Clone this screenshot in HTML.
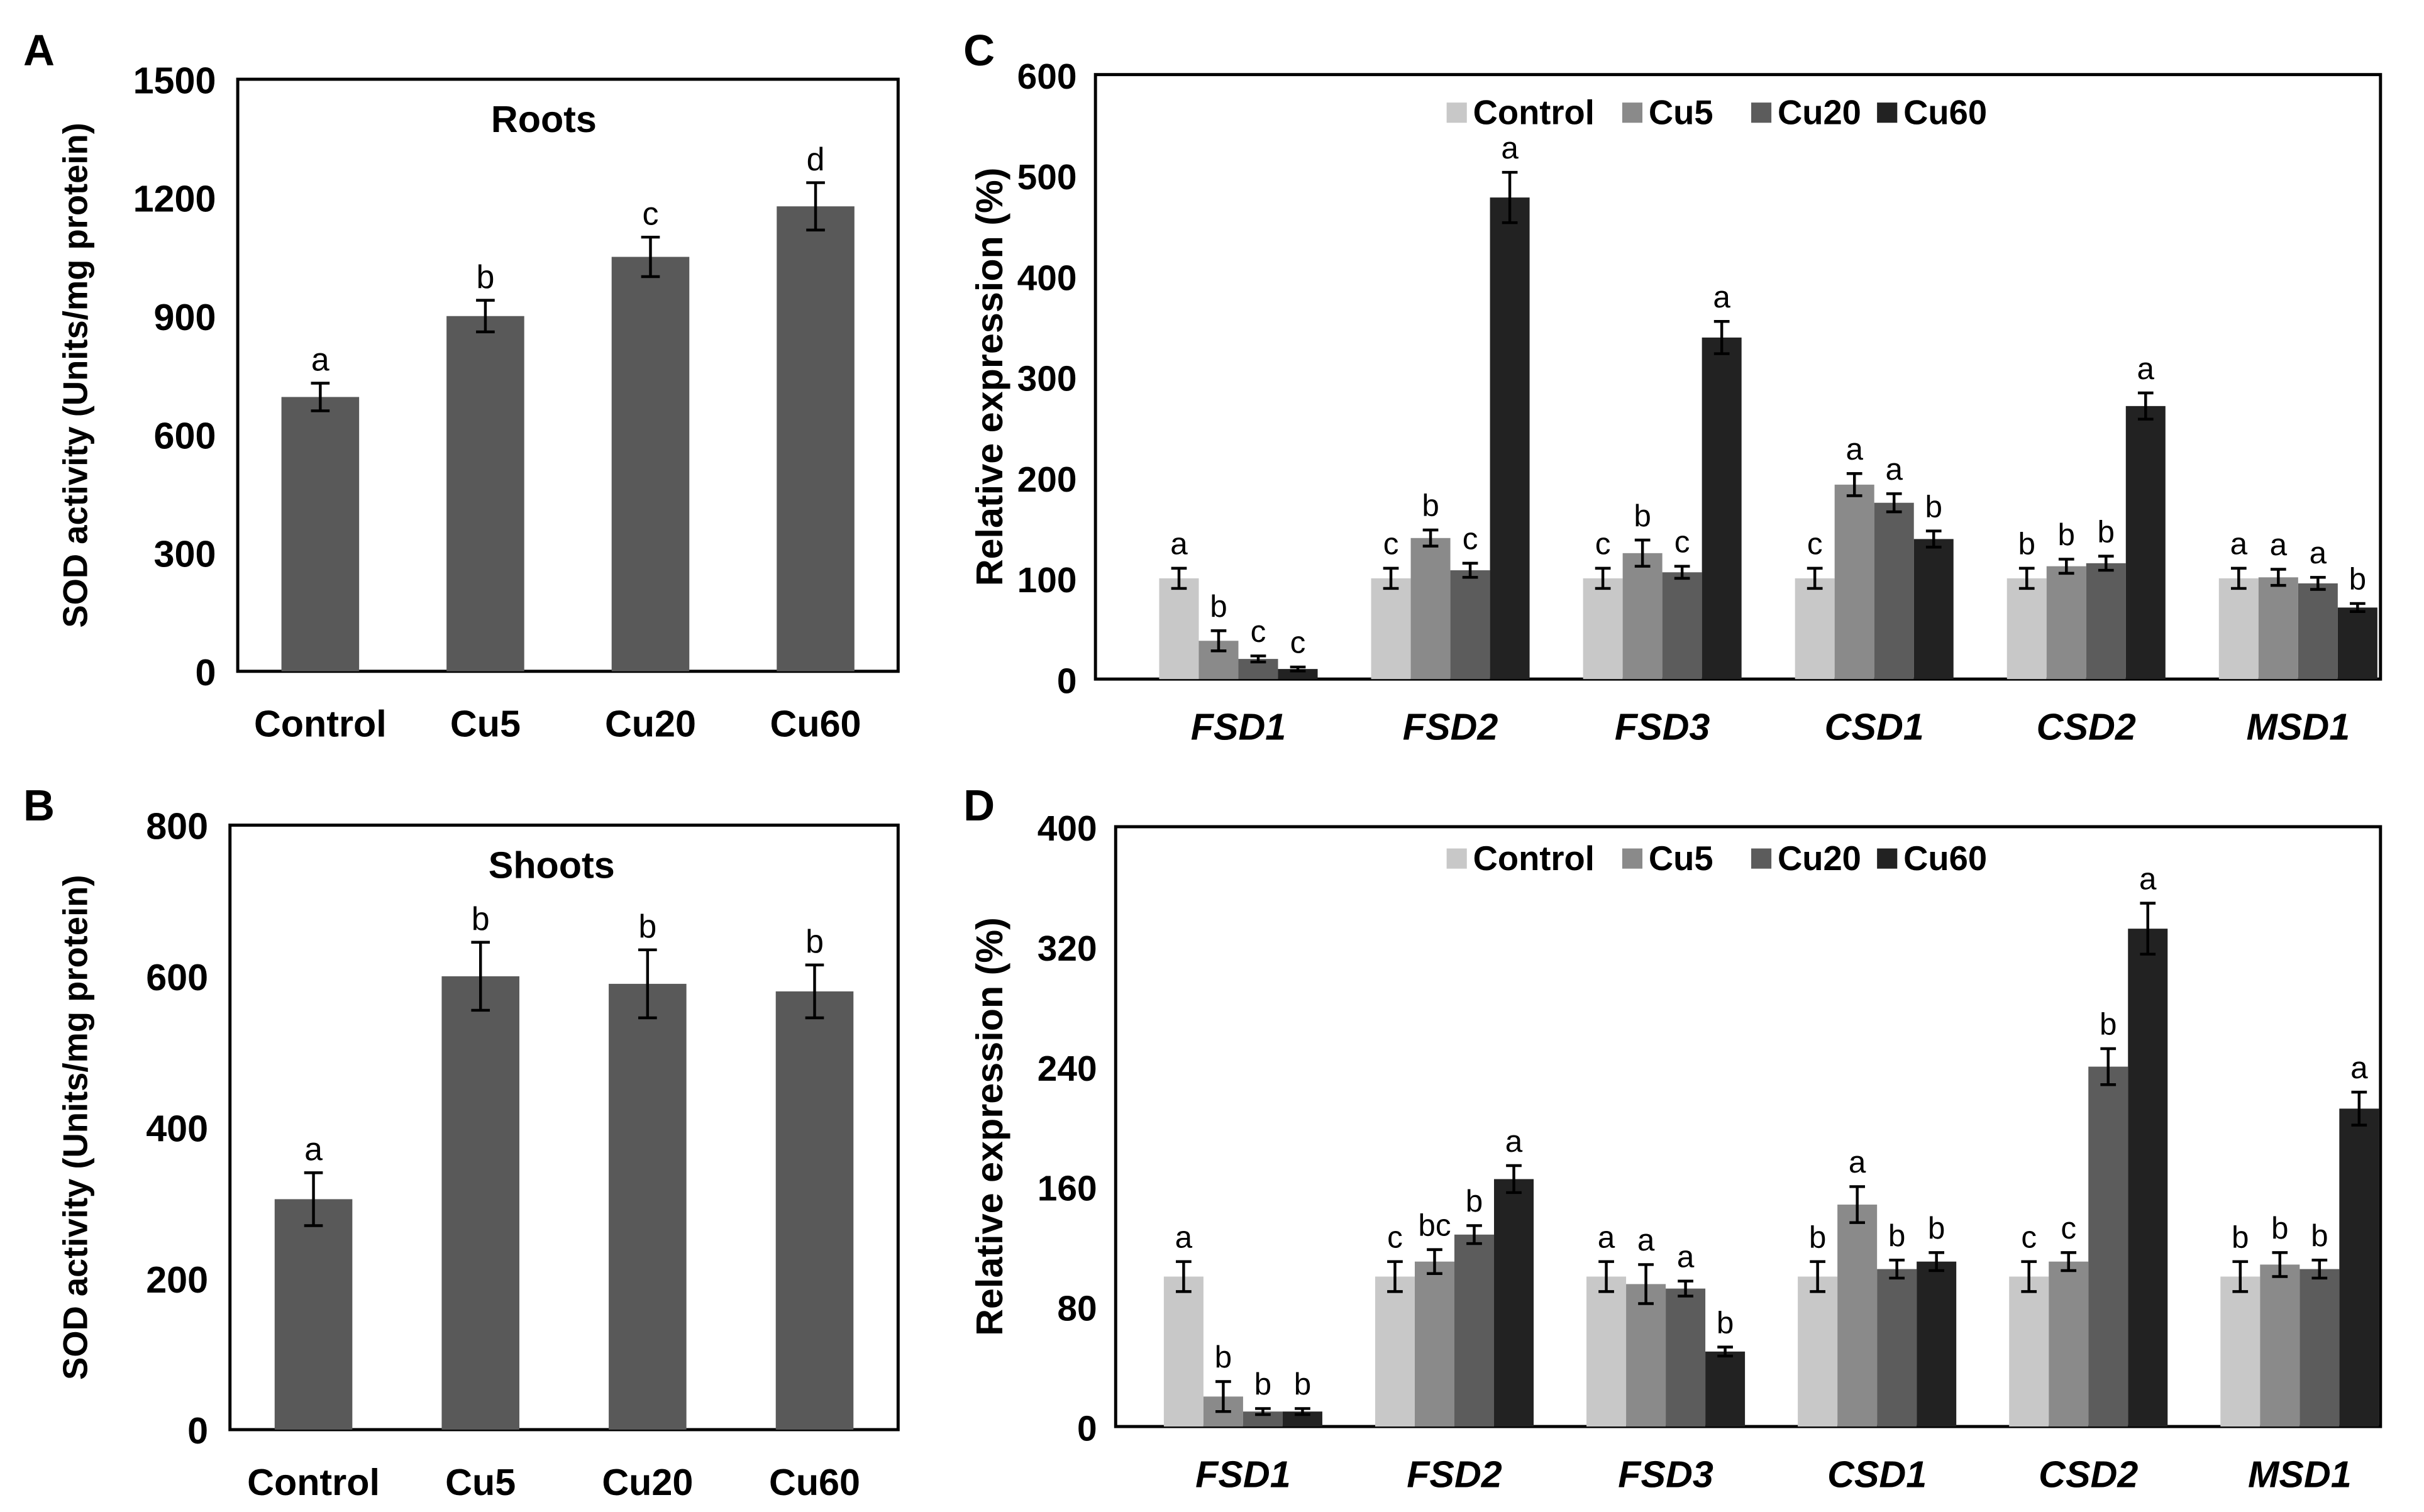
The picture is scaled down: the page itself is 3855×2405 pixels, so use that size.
<!DOCTYPE html>
<html><head><meta charset="utf-8"><style>
html,body{margin:0;padding:0;background:#fff;}
svg{display:block;}
text{font-family:"Liberation Sans",Arial,sans-serif;}
</style></head><body>
<svg id="fig" width="3855" height="2405" viewBox="0 0 1560 973" preserveAspectRatio="none" xmlns="http://www.w3.org/2000/svg">
<rect width="1560" height="973" fill="#fff"/>
</svg>
<script>
// ---- data ----
const treatA = ["Control","Cu5","Cu20","Cu60"];
const rootVals = [695,900,1050,1178];
const rootErr = [35,40,50,60];
const rootLetters = ["a","b","c","d"];
const shootVals = [305,600,590,580];
const shootErr = [35,45,45,35];
const shootLetters = ["a","b","b","b"];
const genes = ["FSD1","FSD2","FSD3","CSD1","CSD2","MSD1"];
const series = ["Control","Cu5","Cu20","Cu60"];
const cControl = [100,100,100,100,100,100];
const cCu5 = [38,140,125,193,112,101];
const cCu20 = [20,108,106,175,115,95];
const cCu60 = [10,478,339,139,271,71];
const cErr = [[10,10,10,10,10,10],[10,8,13,11,7,8],[3,7,6,9,7,6],[2,25,16,8,13,4]];
const cLetters = [["a","c","c","c","b","a"],["b","b","b","a","b","a"],["c","c","c","a","b","a"],["c","a","a","b","a","b"]];
const dControl = [100,100,100,100,100,100];
const dCu5 = [20,110,95,148,110,108];
const dCu20 = [10,128,92,105,240,105];
const dCu60 = [10,165,50,110,332,212];
const dErr = [[10,10,10,10,10,10],[10,8,13,12,6,8],[2,6,5,6,12,6],[2,9,3,6,17,11]];
const dLetters = [["a","c","a","b","c","b"],["b","bc","a","a","c","b"],["b","b","a","b","b","b"],["b","a","b","b","a","a"]];
const ticksA = [0,300,600,900,1200,1500];
const ticksB = [0,200,400,600,800];
const ticksC = [0,100,200,300,400,500,600];
const ticksD = [0,80,160,240,320,400];
const colors = ["#c8c8c8","#8a8a8a","#5c5c5c","#222222"];

const svg = document.getElementById('fig');
const NS = "http://www.w3.org/2000/svg";
function mk(tag, attrs, parent){
  const e = document.createElementNS(NS, tag);
  for (const k in attrs) e.setAttribute(k, attrs[k]);
  (parent||svg).appendChild(e); return e;
}
function txt(s, attrs, parent){ const t = mk('text', attrs, parent); t.textContent = s; return t; }

function errbar(g, x, y1, y2, w){
  mk('path',{d:`M${x},${y1}V${y2}M${x-w},${y1}H${x+w}M${x-w},${y2}H${x+w}`,stroke:'#000','stroke-width':1.8,fill:'none'},g);
}

function simplePanel(p){
  const g = mk('g',{});
  
  
  const y = v => p.bottom - (v - 0)/(p.max) * (p.bottom - p.top);
  const step = (p.right - p.left)/4;
  const box = mk('rect',{x:p.left,y:p.top,width:p.right-p.left,height:p.bottom-p.top,fill:'none',stroke:'#000','stroke-width':2},g);
   
  p.ticks.forEach(t=>{
    const tl = txt(String(t),{x:p.left-14,y:y(t)+9,'text-anchor':'end','font-size':24,'font-weight':'bold'},g);
     
  });
  p.vals.forEach((v,i)=>{
    const cx = p.left + step*(i+0.5);
    const b = mk('rect',{x:cx-25,y:y(v),width:50,height:p.bottom-y(v),fill:'#595959'},g);
     
    errbar(g,cx,y(v+p.err[i]),y(v-p.err[i]),6);
    const l = txt(p.letters[i],{x:cx,y:y(v+p.err[i])-8,'text-anchor':'middle','font-size':21},g);
     
    const c = txt(treatA[i],{x:cx,y:p.bottom+42,'text-anchor':'middle','font-size':24,'font-weight':'bold'},g);
     
  });
  const yl = txt('SOD activity (Units/mg protein)',{x:0,y:0,'text-anchor':'middle','font-size':22,'font-weight':'bold',transform:`translate(${p.ylx},${(p.top+p.bottom)/2}) rotate(-90)`},g);
   
  const t = txt(p.title,{x:p.tx,y:p.top+34,'text-anchor':'middle','font-size':24,'font-weight':'bold','font-family':'Liberation Serif, serif'},g);
   
  const L = txt(p.label,{x:15,y:p.ly,'font-size':28,'font-weight':'bold','font-family':'Liberation Serif, serif'},g);
   
}

function groupedPanel(p){
  const g = mk('g',{});
  
  
  const y = v => p.bottom - v/p.max*(p.bottom-p.top);
  const gx = i => p.c0 + i*p.step;
  const bw = 25.5;
  const box = mk('rect',{x:p.left,y:p.top,width:p.right-p.left,height:p.bottom-p.top,fill:'none',stroke:'#000','stroke-width':2},g);
   
  p.ticks.forEach(t=>{
    const tl = txt(String(t),{x:p.left-12,y:y(t)+9,'text-anchor':'end','font-size':23,'font-weight':'bold'},g);
     
  });
  p.data.forEach((arr,s)=>{
    arr.forEach((v,i)=>{
      const x = gx(i) + (s-2)*bw;
      const cx = x + bw/2;
      const b = mk('rect',{x:x,y:y(v),width:bw,height:p.bottom-y(v),fill:colors[s]},g);
       
      const e = p.err[s][i];
      errbar(g,cx,y(v+e),y(v-e),5);
      const l = txt(p.letters[s][i],{x:cx,y:y(v+e)-9,'text-anchor':'middle','font-size':20},g);
       
    });
  });
  genes.forEach((gn,i)=>{
    const c = txt(gn,{x:gx(i),y:p.bottom+39,'text-anchor':'middle','font-size':24,'font-weight':'bold','font-style':'italic'},g);
     
  });
  const yl = txt('Relative expression (%)',{x:0,y:0,'text-anchor':'middle','font-size':24,'font-weight':'bold',transform:`translate(645,${(p.top+p.bottom)/2}) rotate(-90)`},g);
   
  const lg = mk('g',{},g);
   
  const lx = [931,1044,1127,1208];
  series.forEach((s,i)=>{
    const sw = mk('rect',{x:lx[i],y:p.legY-8,width:13,height:13,fill:colors[i]},lg);
     
    const t = txt(s,{x:lx[i]+17,y:p.legY+6,'font-size':22,'font-weight':'bold'},lg);
     
  });
  const L = txt(p.label,{x:620,y:p.ly,'font-size':28,'font-weight':'bold','font-family':'Liberation Serif, serif'},g);
   
}

simplePanel({name:'panel-a-roots',left:153,right:578,top:51,bottom:432,max:1500,ticks:ticksA,vals:rootVals,err:rootErr,letters:rootLetters,title:'Roots',tx:350,label:'A',ly:42,ylx:56});
simplePanel({name:'panel-b-shoots',left:148,right:578,top:531,bottom:920,max:800,ticks:ticksB,vals:shootVals,err:shootErr,letters:shootLetters,title:'Shoots',tx:355,label:'B',ly:528,ylx:56});
groupedPanel({name:'panel-c',left:705,right:1532,top:48,bottom:437,max:600,ticks:ticksC,data:[cControl,cCu5,cCu20,cCu60],err:cErr,letters:cLetters,c0:797,step:136.4,legY:74,label:'C',ly:42});
groupedPanel({name:'panel-d',left:718,right:1532,top:532,bottom:918,max:400,ticks:ticksD,data:[dControl,dCu5,dCu20,dCu60],err:dErr,letters:dLetters,c0:800,step:136,legY:554,label:'D',ly:528});
</script>
</body></html>
